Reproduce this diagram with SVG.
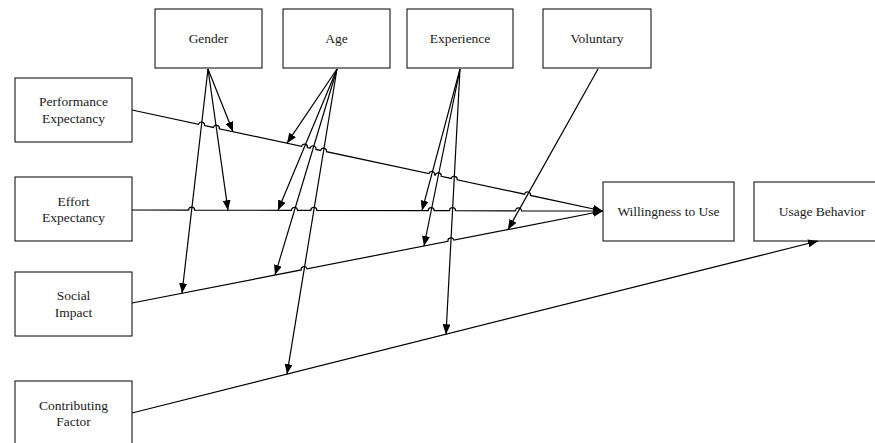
<svg xmlns="http://www.w3.org/2000/svg" width="875" height="443" viewBox="0 0 875 443">
  <style>
    .box { fill: #ffffff; stroke: #000000; stroke-width: 1; }
    .lbl { font-family: "Liberation Serif", "Times New Roman", serif; font-size: 13.5px; fill: #1a1a1a; text-anchor: middle; }
    .wire { fill: none; stroke: #000000; stroke-width: 1.2; }
    .arrow { marker-end: url(#head); }
  </style>
  <defs>
    <marker id="head" viewBox="0 0 10 8" refX="10" refY="4" markerWidth="10" markerHeight="8" markerUnits="userSpaceOnUse" orient="auto">
      <path d="M0,0 L10,4 L0,8 Z" fill="#000000"/>
    </marker>
  </defs>

  <rect width="875" height="443" fill="#ffffff"/>

  <!-- moderator boxes -->
  <g id="gender"><rect class="box" x="155" y="9" width="107" height="59"/><text class="lbl" x="208.5" y="43">Gender</text></g>
  <g id="age"><rect class="box" x="283" y="9" width="107" height="59"/><text class="lbl" x="336.5" y="43">Age</text></g>
  <g id="experience"><rect class="box" x="407" y="9" width="106" height="59"/><text class="lbl" x="460" y="43">Experience</text></g>
  <g id="voluntary"><rect class="box" x="543" y="9" width="108" height="59"/><text class="lbl" x="597" y="43">Voluntary</text></g>

  <!-- predictor boxes -->
  <g id="performance-expectancy"><rect class="box" x="15" y="78" width="117" height="64"/><text class="lbl" x="73.5" y="106">Performance</text><text class="lbl" x="73.5" y="122.5">Expectancy</text></g>
  <g id="effort-expectancy"><rect class="box" x="15" y="177" width="117" height="64"/><text class="lbl" x="73.5" y="205.5">Effort</text><text class="lbl" x="73.5" y="222">Expectancy</text></g>
  <g id="social-impact"><rect class="box" x="15" y="272" width="117" height="64"/><text class="lbl" x="73.5" y="300">Social</text><text class="lbl" x="73.5" y="316.5">Impact</text></g>
  <g id="contributing-factor"><rect class="box" x="15" y="381" width="117" height="64"/><text class="lbl" x="73.5" y="409.5">Contributing</text><text class="lbl" x="73.5" y="426">Factor</text></g>

  <!-- outcome boxes -->
  <g id="willingness-to-use"><rect class="box" x="603" y="182" width="131" height="59"/><text class="lbl" x="668.5" y="216">Willingness to Use</text></g>
  <g id="usage-behavior"><rect class="box" x="754" y="182" width="136" height="59"/><text class="lbl" x="822" y="216">Usage Behavior</text></g>

  <g id="connectors">
    <!-- main paths, with line jumps where moderator lines cross -->
    <path class="wire arrow" d="M132,110 L198.59,124.28 A3,3 0 0 1 204.45,125.54 L213.44,127.46 A3,3 0 0 1 219.30,128.72 L301.51,146.35 A3,3 0 0 1 307.37,147.61 L310.07,148.19 A3,3 0 0 1 315.93,149.44 L320.62,150.45 A3,3 0 0 1 326.48,151.70 L428.82,173.65 A3,3 0 0 1 434.68,174.91 L435.37,175.05 A3,3 0 0 1 441.23,176.31 L451.26,178.46 A3,3 0 0 1 457.12,179.72 L524.57,194.18 A3,3 0 0 1 530.43,195.44 L603,211"/>
    <path class="wire arrow" d="M132,210 L188.64,210.12 A3,3 0 0 1 194.64,210.13 L291.46,210.33 A3,3 0 0 1 297.46,210.35 L310.83,210.38 A3,3 0 0 1 316.83,210.39 L428.2,210.63 A3,3 0 0 1 434.2,210.64 L449.52,210.67 A3,3 0 0 1 455.52,210.69 L515.5,210.81 A3,3 0 0 1 521.5,210.83 L603,211"/>
    <path class="wire arrow" d="M132,303 L301.22,269.95 A3,3 0 0 1 307.10,268.80 L448.0,241.28 A3,3 0 0 1 453.88,240.13 L603,211"/>
    <path class="wire arrow" d="M132,413 L818,241"/>

    <!-- gender -->
    <path class="wire arrow" d="M208,69 L233,131.7"/>
    <path class="wire arrow" d="M208,69 L228,210.2"/>
    <path class="wire arrow" d="M208,69 L182,293.2"/>
    <!-- age -->
    <path class="wire arrow" d="M337,69 L287,143.2"/>
    <path class="wire arrow" d="M337,69 L278,210.3"/>
    <path class="wire arrow" d="M337,69 L275,275.1"/>
    <path class="wire arrow" d="M337,69 L287,374.1"/>
    <!-- experience -->
    <path class="wire arrow" d="M460,69 L422,210.6"/>
    <path class="wire arrow" d="M460,69 L424,246"/>
    <path class="wire arrow" d="M460,69 L446,334.3"/>
    <!-- voluntary -->
    <path class="wire arrow" d="M598,69 L508,229.6"/>
  </g>
</svg>
